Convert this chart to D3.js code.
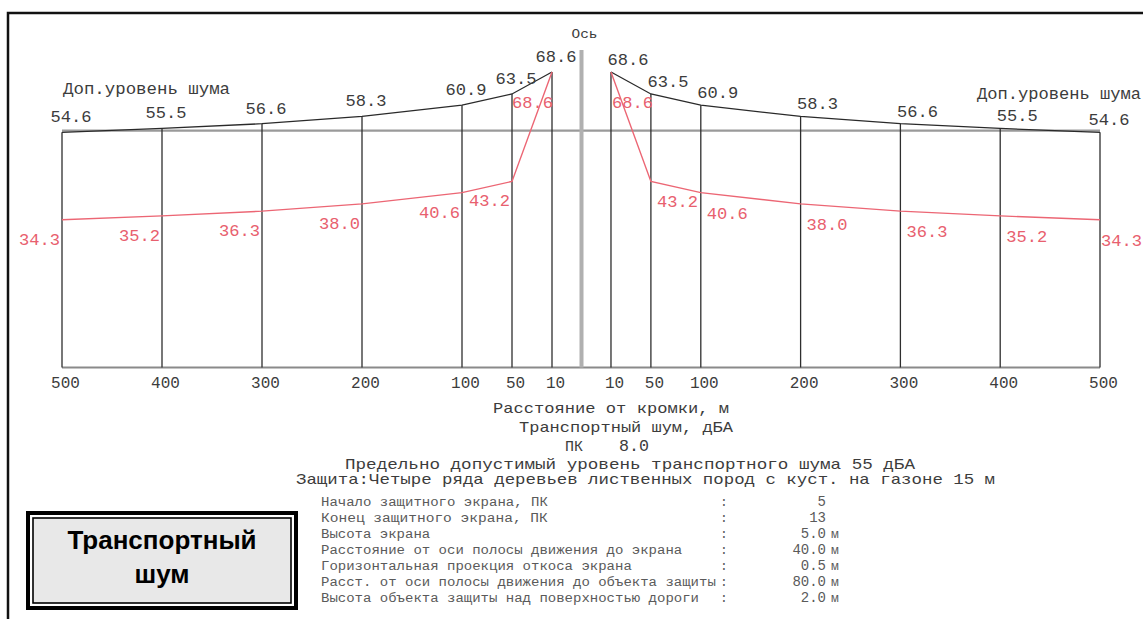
<!DOCTYPE html>
<html>
<head>
<meta charset="utf-8">
<script src="https://cdn.jsdelivr.net/npm/d3@7/dist/d3.min.js"></script>
<style>
  html, body { margin: 0; padding: 0; background: #fff; overflow: hidden; }
  svg { display: block; }
  .cad { font-family: "Liberation Mono", "DejaVu Sans Mono", monospace; fill: #3c3c3c; }
  .red { fill: #e8606e; }
  .tbl { fill: #5a5a5a; }
</style>
</head>
<body>
<svg id="chart" width="1143" height="619"></svg>
<script>
// Distances from the carriageway edge, m (same set on both sides of the axis)
const distances = [500, 400, 300, 200, 100, 50, 10];
const tickLabels = ["500", "400", "300", "200", "100", "50", "10"];
// Permissible noise level curve, dBA
const allowedLevel = [54.6, 55.5, 56.6, 58.3, 60.9, 63.5, 68.6];
// Traffic noise behind the protective screen, dBA
const noiseLevel = [34.3, 35.2, 36.3, 38.0, 40.6, 43.2, 68.6];
// Maximum permissible traffic noise level, dBA
const limitLevel = 55;
const sides = ["left", "right"];

const picket = "8.0";
const paramNames = [
  "Начало защитного экрана, ПК",
  "Конец  защитного экрана, ПК",
  "Высота экрана",
  "Расстояние от оси полосы движения до экрана",
  "Горизонтальная проекция откоса экрана",
  "Расст. от оси полосы движения до объекта защиты",
  "Высота объекта защиты над поверхностью дороги"
];
const paramValues = ["5", "13", "5.0", "40.0", "0.5", "80.0", "2.0"];
const paramUnits = ["", "", "м", "м", "м", "м", "м"];

const W = 1143;
const svg = d3.select("#chart");

// Outer drawing frame (top and left edges)
svg.append("path")
  .attr("d", "M8,619 V13 H1143")
  .attr("fill", "none").attr("stroke", "#111").attr("stroke-width", 2.5);

// Scales
const y = d3.scaleLinear().domain([0, 70]).range([367.5, 66]);
const xs = {
  left: d3.scaleLinear().domain([0, 500]).range([562, 62]),
  right: d3.scaleLinear().domain([0, 500]).range([601, 1100])
};
const axisX = (xs.left(0) + xs.right(0)) / 2;
const pts = distances.map((d, i) => ({ d, a: allowedLevel[i], n: noiseLevel[i], i }));

// Limit line (55 dBA) and baseline across both halves
const gx0 = xs.left(d3.max(distances)), gx1 = xs.right(d3.max(distances));
svg.append("line")
  .attr("x1", gx0).attr("x2", gx1).attr("y1", y(limitLevel)).attr("y2", y(limitLevel))
  .attr("stroke", "#9a9a9a").attr("stroke-width", 2.2);
svg.append("line")
  .attr("x1", gx0).attr("x2", gx1).attr("y1", y(0)).attr("y2", y(0))
  .attr("stroke", "#8a8a8a").attr("stroke-width", 1.8);

// Road axis
svg.append("line")
  .attr("x1", axisX).attr("x2", axisX).attr("y1", 50).attr("y2", y(0))
  .attr("stroke", "#b0b0b0").attr("stroke-width", 4);
svg.append("text").attr("class", "cad")
  .attr("x", axisX - 10).attr("y", 38)
  .attr("font-size", 13).attr("textLength", 26).attr("lengthAdjust", "spacingAndGlyphs")
  .text("Ось");

const labelW = 41;

sides.forEach(side => {
  const x = xs[side];
  const g = svg.append("g");

  // Verticals at each distance
  g.selectAll("line.v").data(pts).join("line")
    .attr("x1", p => x(p.d)).attr("x2", p => x(p.d))
    .attr("y1", p => y(p.a)).attr("y2", y(0))
    .attr("stroke", "#2e2e2e").attr("stroke-width", 1.3);

  // Permissible level polyline
  g.append("path").datum(pts)
    .attr("d", d3.line().x(p => x(p.d)).y(p => y(p.a)))
    .attr("fill", "none").attr("stroke", "#2a2a2a").attr("stroke-width", 1.3);

  // Noise level polyline
  g.append("path").datum(pts)
    .attr("d", d3.line().x(p => x(p.d)).y(p => y(p.n)))
    .attr("fill", "none").attr("stroke", "#ec6674").attr("stroke-width", 1.4);

  // Permissible level values
  const last = pts.length - 1;
  g.selectAll("text.a").data(pts).join("text")
    .attr("class", "cad")
    .attr("font-size", 17)
    .attr("text-anchor", "middle")
    .attr("x", p => x(p.d) + (p.i === 0 ? 9 : (side === "left" ? 4 : 17)))
    .attr("y", p => y(p.a) - (side === "left" ? 10 : 7))
    .attr("textLength", labelW).attr("lengthAdjust", "spacingAndGlyphs")
    .text(p => p.a.toFixed(1));

  // Noise level values
  g.selectAll("text.n").data(pts).join("text")
    .attr("class", "cad red")
    .attr("font-size", 17)
    .attr("text-anchor", side === "left" ? "end" : "start")
    .attr("x", p => {
      if (p.i === last) return x(p.d) + 1;
      return side === "left" ? x(p.d) - 2 : Math.min(x(p.d) + 6, W - 1 - labelW);
    })
    .attr("y", p => y(p.n) + (p.i === last ? 36 : (side === "left" ? 25 : 26)))
    .attr("textLength", labelW).attr("lengthAdjust", "spacingAndGlyphs")
    .text(p => p.n.toFixed(1));

  // Distance axis labels
  const ax = d3.axisBottom(x).tickValues(distances).tickSize(0)
    .tickFormat((d, i) => tickLabels[i]);
  const axg = svg.append("g").attr("transform", `translate(0,${y(0)})`).call(ax);
  axg.select(".domain").remove();
  axg.selectAll("text")
    .attr("class", "cad")
    .attr("font-family", null).attr("fill", null)
    .attr("font-size", 16).attr("dy", 0).attr("y", 20).attr("dx", 3);
});

// Curve captions
svg.append("text").attr("class", "cad").attr("font-size", 16)
  .attr("x", 63).attr("y", 94)
  .attr("textLength", 167).attr("lengthAdjust", "spacingAndGlyphs")
  .text("Доп.уровень шума");
svg.append("text").attr("class", "cad").attr("font-size", 16)
  .attr("x", 977).attr("y", 99)
  .attr("textLength", 164).attr("lengthAdjust", "spacingAndGlyphs")
  .text("Доп.уровень шума");

// Caption block under the chart
const capLine = (txt, x0, x1, yb, size) =>
  svg.append("text").attr("class", "cad").attr("font-size", size)
    .attr("x", x0).attr("y", yb)
    .attr("textLength", x1 - x0).attr("lengthAdjust", "spacingAndGlyphs")
    .text(txt);

capLine("Расстояние от кромки, м", 493, 729, 413, 15);
capLine("Транспортный шум, дБА", 519, 733, 432, 15);
svg.append("text").attr("class", "cad").attr("font-size", 15).attr("x", 565).attr("y", 451).text("ПК");
capLine(picket, 619, 649, 451, 16);
capLine("Предельно допустимый уровень транспортного шума " + limitLevel + " дБА", 345, 915, 469, 15);
capLine("Защита:Четыре ряда деревьев лиственных пород с куст. на газоне 15 м", 296, 995, 484, 15);

// Screen parameters table
const rowY = d3.scalePoint().domain(d3.range(paramNames.length)).range([506, 602]);
const tbl = svg.append("g");
paramNames.forEach((name, i) => {
  tbl.append("text").attr("class", "cad tbl").attr("font-size", 12.5)
    .attr("x", 321).attr("y", rowY(i))
    .attr("textLength", name.length * 8.4).attr("lengthAdjust", "spacingAndGlyphs")
    .text(name);
  tbl.append("text").attr("class", "cad tbl").attr("font-size", 13)
    .attr("x", 720).attr("y", rowY(i)).text(":");
  tbl.append("text").attr("class", "cad tbl").attr("font-size", 14)
    .attr("x", 826).attr("y", rowY(i)).attr("text-anchor", "end").text(paramValues[i]);
  if (paramUnits[i]) {
    tbl.append("text").attr("class", "cad tbl").attr("font-size", 13)
      .attr("x", 831).attr("y", rowY(i)).text(paramUnits[i]);
  }
});

// Title box
const box = svg.append("g");
box.append("rect").attr("x", 28).attr("y", 513).attr("width", 268).attr("height", 95)
  .attr("fill", "#fff").attr("stroke", "#000").attr("stroke-width", 4);
box.append("rect").attr("x", 33).attr("y", 518).attr("width", 258).attr("height", 85)
  .attr("fill", "#e8e8e8").attr("stroke", "#000").attr("stroke-width", 1.6);
box.append("text").attr("x", 162).attr("y", 549).attr("text-anchor", "middle")
  .attr("font-family", "'Liberation Sans', Arial, sans-serif").attr("font-weight", "bold")
  .attr("font-size", 26).attr("fill", "#000").text("Транспортный");
box.append("text").attr("x", 162).attr("y", 583).attr("text-anchor", "middle")
  .attr("font-family", "'Liberation Sans', Arial, sans-serif").attr("font-weight", "bold")
  .attr("font-size", 26).attr("fill", "#000").text("шум");
</script>
</body>
</html>
